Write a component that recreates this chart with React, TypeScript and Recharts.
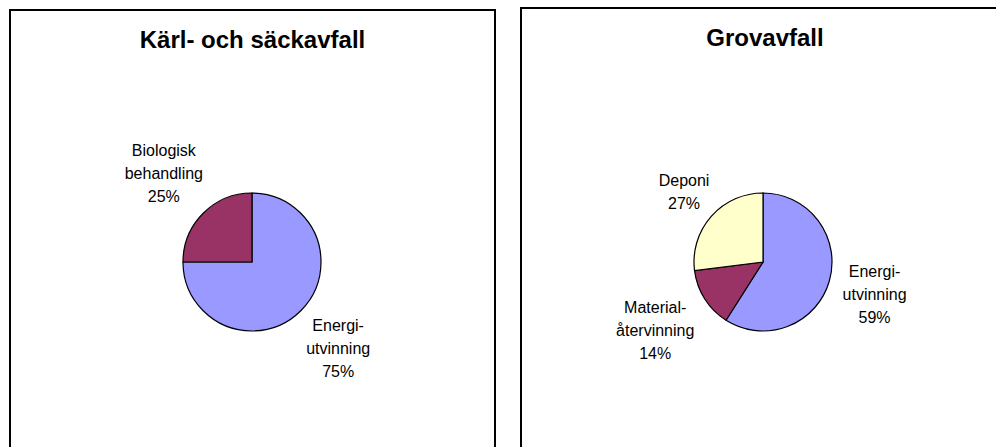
import React from 'react';
import { PieChart, Pie, Cell } from 'recharts';

// Kärl- och säckavfall
const householdNames = ['Energi-\nutvinning', 'Biologisk\nbehandling'];
const householdValues = [75, 25];

// Grovavfall
const bulkyNames = ['Energi-\nutvinning', 'Material-\nåtervinning', 'Deponi'];
const bulkyValues = [59, 14, 27];

const sliceColors: Record<string, string> = {
  'Energi-\nutvinning': '#9999FF',
  'Biologisk\nbehandling': '#993366',
  'Material-\nåtervinning': '#993366',
  'Deponi': '#FFFFCC',
};

const FONT = '"Liberation Sans", Arial, Helvetica, sans-serif';
const LABEL_SIZE = 16;
const LINE_H = 23;
const RAD = Math.PI / 180;

const makeLabel = (names: string[]) => (props: any) => {
  const { cx, cy, midAngle, outerRadius, index, value } = props;
  const lines = [...names[index].split('\n'), `${value}%`];
  const w = Math.max(...lines.map((l) => l.length)) * LABEL_SIZE * 0.5;
  const h = lines.length * LINE_H;
  const ux = Math.cos(-midAngle * RAD);
  const uy = Math.sin(-midAngle * RAD);
  // push the label box out until it clears the pie edge
  const dist = outerRadius + 3 + (w / 2) * Math.abs(ux) + (h / 2) * Math.abs(uy);
  const lx = cx + dist * ux;
  const ly = cy + dist * uy;
  return (
    <g>
      {lines.map((line, i) => (
        <text
          key={i}
          x={lx}
          y={ly + (i - (lines.length - 1) / 2) * LINE_H}
          textAnchor="middle"
          dominantBaseline="central"
          fontSize={LABEL_SIZE}
          fontFamily={FONT}
          fill="#000"
        >
          {line}
        </text>
      ))}
    </g>
  );
};

const Panel: React.FC<{
  title: string;
  names: string[];
  values: number[];
  left: number;
  top: number;
  width: number;
  cx: number;
  cy: number;
}> = ({ title, names, values, left, top, width, cx, cy }) => {
  const data = names.map((name, i) => ({ name, value: values[i] }));
  return (
    <div
      style={{
        position: 'absolute',
        left,
        top,
        width,
        height: 460,
        border: '2px solid #000',
        boxSizing: 'border-box',
        background: '#fff',
      }}
    >
      <div
        style={{
          position: 'absolute',
          top: 15,
          left: 0,
          width: '100%',
          textAlign: 'center',
          fontFamily: FONT,
          fontWeight: 'bold',
          fontSize: 24,
          lineHeight: '27.6px',
        }}
      >
        {title}
      </div>
      <PieChart
        width={width - 4}
        height={440}
        margin={{ top: 0, right: 0, bottom: 0, left: 0 }}
        style={{ position: 'absolute', left: 0, top: 0 }}
      >
        <Pie
          data={data}
          dataKey="value"
          nameKey="name"
          cx={cx}
          cy={cy}
          outerRadius={69}
          startAngle={90}
          endAngle={-270}
          stroke="#000"
          strokeWidth={1.2}
          label={makeLabel(names)}
          labelLine={false}
          isAnimationActive={false}
        >
          {data.map((entry, i) => (
            <Cell key={`cell-${i}`} fill={sliceColors[entry.name]} />
          ))}
        </Pie>
      </PieChart>
    </div>
  );
};

const App: React.FC = () => {
  return (
    <div
      style={{
        position: 'fixed',
        left: 0,
        top: 0,
        width: 996,
        height: 447,
        overflow: 'hidden',
        background: '#fff',
      }}
    >
      <Panel
        title="Kärl- och säckavfall"
        names={householdNames}
        values={householdValues}
        left={9}
        top={9}
        width={487}
        cx={241}
        cy={251}
      />
      <Panel
        title="Grovavfall"
        names={bulkyNames}
        values={bulkyValues}
        left={520}
        top={7}
        width={490}
        cx={241}
        cy={253}
      />
    </div>
  );
};

export default App;
